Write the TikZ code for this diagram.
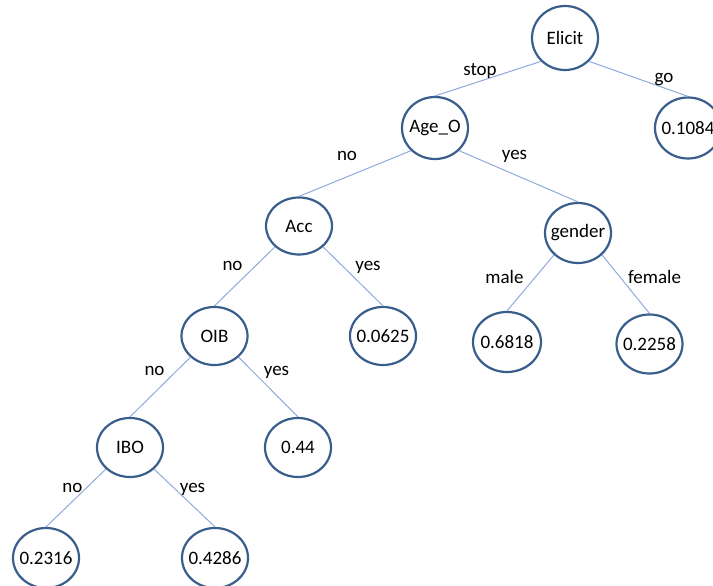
\documentclass[tikz,border=0pt]{standalone}
\usepackage{fontspec}
\setmainfont{Carlito}
\usetikzlibrary{shapes.geometric}
\definecolor{nodeblue}{RGB}{58,94,140}
\definecolor{edgeblue}{RGB}{143,170,220}
\newcommand\ztext[1]{\makebox[0pt]{#1}}
\begin{document}
\begin{tikzpicture}[x=1pt,y=-1pt,
  tnode/.style={ellipse, draw=nodeblue, line width=2.2pt, fill=white,
    minimum width=66pt, minimum height=59pt, inner sep=0pt,
    font=\fontsize{19}{21}\selectfont},
  elabel/.style={anchor=base, inner sep=0pt, font=\fontsize{19}{21}\selectfont},
  conn/.style={draw=edgeblue, line width=1pt}]
\useasboundingbox (0,0) rectangle (713,586);
\fill[white] (0,0) rectangle (713,586);
% nodes
\node[tnode, minimum height=64pt] (elicit) at (565,38) {\ztext{Elicit}};
\node[tnode, minimum height=62pt] (ageo) at (435,128) {\ztext{Age\_O}};
\node[tnode, minimum height=61pt] (v1084) at (688,128) {\ztext{0.1084}};
\node[tnode, minimum height=57pt] (acc) at (299,226) {\ztext{Acc}};
\node[tnode, minimum height=60pt] (gender) at (578,233) {\ztext{gender}};
\node[tnode, minimum height=58pt] (oib) at (214.5,336) {\ztext{OIB}};
\node[tnode, minimum height=58pt] (v0625) at (383,336) {\ztext{0.0625}};
\node[tnode, minimum width=68pt, minimum height=60pt] (v6818) at (507,342) {\ztext{0.6818}};
\node[tnode, minimum height=59pt] (v2258) at (649.5,344) {\ztext{0.2258}};
\node[tnode] (ibo) at (130,447.5) {\ztext{IBO}};
\node[tnode] (v044) at (298,447.5) {\ztext{0.44}};
\node[tnode, minimum height=60pt] (v2316) at (46,558) {\ztext{0.2316}};
\node[tnode, minimum height=60pt] (v4286) at (215,558) {\ztext{0.4286}};
% connectors
\path[conn] (elicit.south west) -- (ageo.north);
\path[conn] (elicit.south east) -- (v1084.north);
\path[conn] (ageo.south west) -- (acc.north);
\path[conn] (ageo.south east) -- (gender.north);
\path[conn] (acc.south west) -- (oib.north);
\path[conn] (acc.south east) -- (v0625.north);
\path[conn] (gender.south west) -- (v6818.north);
\path[conn] (gender.south east) -- (v2258.north);
\path[conn] (oib.south west) -- (ibo.north);
\path[conn] (oib.south east) -- (v044.north);
\path[conn] (ibo.south west) -- (v2316.north);
\path[conn] (ibo.south east) -- (v4286.north);
% edge labels
\node[elabel] (lstop) at (480,76) {stop};
\node[elabel] (lgo) at (664,82.5) {go};
\node[elabel] (lno1) at (347,160.5) {no};
\node[elabel] (lyes1) at (514.5,159.5) {yes};
\node[elabel] (lno2) at (232.5,270) {no};
\node[elabel] (lyes2) at (368,270.5) {yes};
\node[elabel] (lmale) at (504.5,283.3) {male};
\node[elabel] (lfemale) at (654.5,283) {female};
\node[elabel] (lno3) at (154.5,375.5) {no};
\node[elabel] (lyes3) at (276.5,375.5) {yes};
\node[elabel] (lno4) at (72.5,492.5) {no};
\node[elabel] (lyes4) at (192.5,492.5) {yes};
\end{tikzpicture}
\end{document}
